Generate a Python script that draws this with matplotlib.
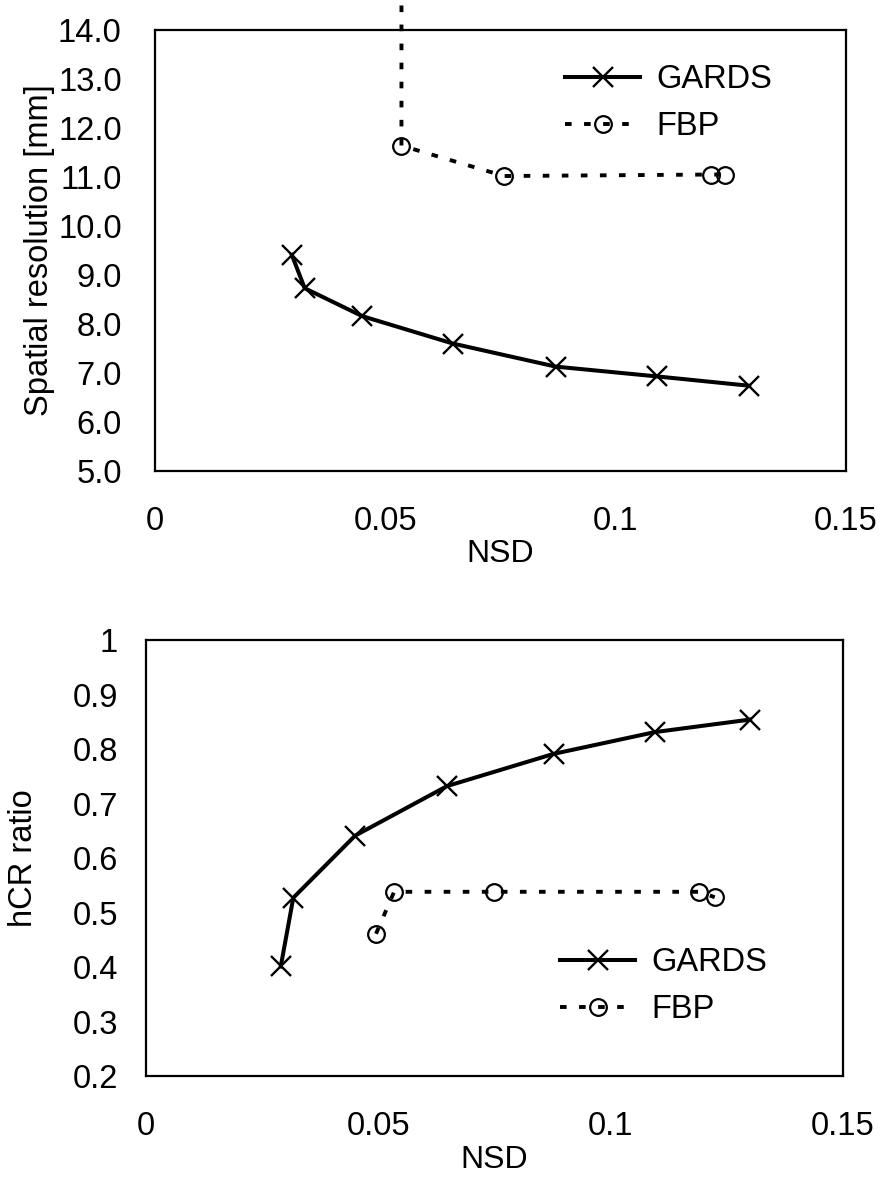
import matplotlib
matplotlib.use("Agg")
import matplotlib.pyplot as plt

plt.rcParams['font.family'] = ['Liberation Sans', 'DejaVu Sans']

# ---- data ----
nsd_gards = [0.0297, 0.0325, 0.045, 0.0647, 0.087, 0.109, 0.129]
res_gards = [9.41, 8.73, 8.16, 7.60, 7.13, 6.93, 6.74]

nsd_fbp_top = [0.0535, 0.0535, 0.0758, 0.1206, 0.1238]
res_fbp = [14.5, 11.64, 11.02, 11.05, 11.05]

nsd_gards_b = [0.029, 0.0317, 0.045, 0.0648, 0.0877, 0.1095, 0.130]
hcr_gards = [0.401, 0.527, 0.641, 0.732, 0.791, 0.831, 0.854]

nsd_fbp_b = [0.0495, 0.0534, 0.0749, 0.1191, 0.1224]
hcr_fbp = [0.461, 0.538, 0.538, 0.538, 0.528]

x_ticks = [0, 0.05, 0.1, 0.15]
x_ticklabels = ['0', '0.05', '0.1', '0.15']
y_ticks_top = [5, 6, 7, 8, 9, 10, 11, 12, 13, 14]
y_ticklabels_top = ['5.0', '6.0', '7.0', '8.0', '9.0', '10.0', '11.0', '12.0', '13.0', '14.0']
y_ticks_bot = [0.2, 0.3, 0.4, 0.5, 0.6, 0.7, 0.8, 0.9, 1.0]
y_ticklabels_bot = ['0.2', '0.3', '0.4', '0.5', '0.6', '0.7', '0.8', '0.9', '1']

W, H = 880, 1177
fig = plt.figure(figsize=(W / 100, H / 100), dpi=100)

def px_axes(l, t, r, b):
    return [l / W, 1 - b / H, (r - l) / W, (b - t) / H]

ax1 = fig.add_axes(px_axes(155, 30, 846, 471))
ax2 = fig.add_axes(px_axes(146, 640, 843, 1076))

FS = 23.5
gards_kw = dict(color='black', lw=2.9, marker='x', markersize=15, markeredgewidth=1.7)
fbp_kw = dict(color='black', lw=2.8, linestyle=(0, (1.7, 3.2)), marker='o', markersize=12,
              markerfacecolor='none', markeredgewidth=1.6)

ax1.plot(nsd_gards, res_gards, label='GARDS', **gards_kw)
ax1.plot(nsd_fbp_top, res_fbp, label='FBP', markevery=[1, 2, 3, 4], clip_on=False, **fbp_kw)

ax2.plot(nsd_gards_b, hcr_gards, label='GARDS', **gards_kw)
ax2.plot(nsd_fbp_b, hcr_fbp, label='FBP', **fbp_kw)

for ax, yt, ytl, ylim, ylab, ypad, lpad in [
        (ax1, y_ticks_top, y_ticklabels_top, (5, 14), 'Spatial resolution [mm]', 24, 2),
        (ax2, y_ticks_bot, y_ticklabels_bot, (0.2, 1.0), 'hCR ratio', 20, 24)]:
    ax.set_xlim(0, 0.15)
    ax.set_ylim(*ylim)
    ax.set_xticks(x_ticks)
    ax.set_xticklabels(x_ticklabels, fontsize=FS)
    ax.set_yticks(yt)
    ax.set_yticklabels(ytl, fontsize=FS)
    ax.tick_params(axis='x', length=0, pad=25)
    ax.tick_params(axis='y', length=0, pad=ypad)
    for s in ax.spines.values():
        s.set_linewidth(1.6)
        s.set_color('black')
    ax.set_xlabel('NSD', fontsize=23, labelpad=2)
    ax.set_ylabel(ylab, fontsize=23.5, labelpad=lpad)

leg_kw = dict(frameon=False, fontsize=FS, handlelength=2.3, handletextpad=0.5,
              labelspacing=0.5, borderpad=0, borderaxespad=0, loc='upper left')
ax1.legend(bbox_transform=fig.transFigure, bbox_to_anchor=(565 / W, 1 - 64 / H), **leg_kw)
ax2.legend(bbox_transform=fig.transFigure, bbox_to_anchor=(560 / W, 1 - 947 / H), **leg_kw)

fig.savefig('out.png', dpi=100)
